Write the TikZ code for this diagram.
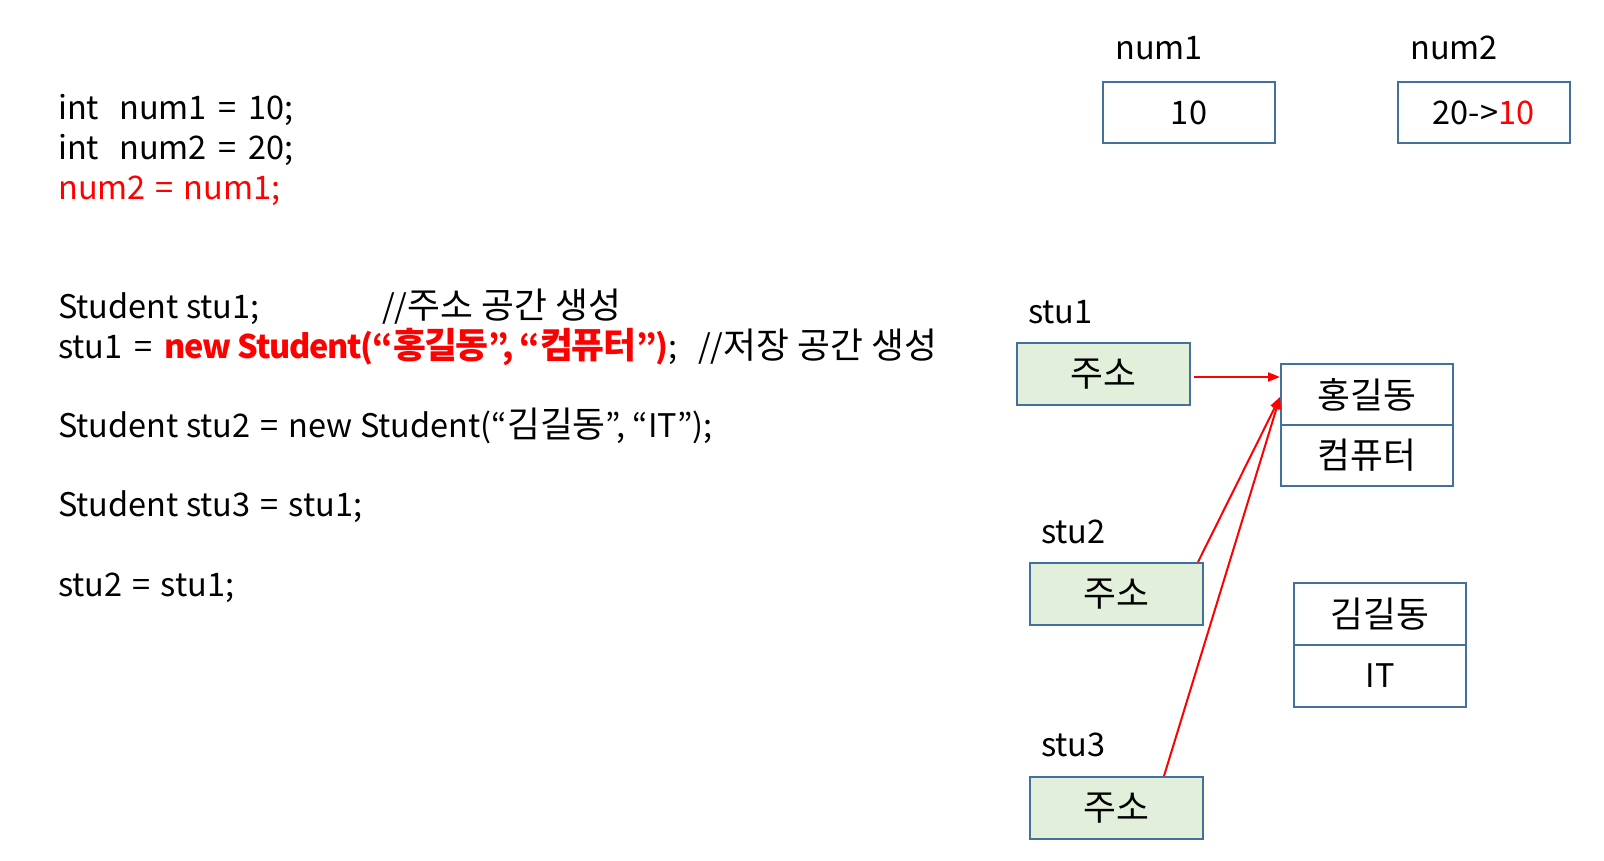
\documentclass[tikz,border=0pt]{standalone}
\usepackage{fontspec}
\setmainfont{Noto Sans CJK KR}
\newfontfamily\kr{Noto Sans CJK KR}[Scale=1.1]
\usetikzlibrary{arrows.meta}
\definecolor{bord}{RGB}{65,113,156}
\definecolor{cellfill}{RGB}{226,239,218}
\definecolor{myred}{RGB}{255,0,0}
\begin{document}
\begin{tikzpicture}[x=1pt,y=-1pt,
  txt/.style={anchor=base west, inner sep=0pt, font=\fontsize{32.5}{40}\selectfont},
  cell/.style={draw=bord, line width=2pt, minimum width=172pt, minimum height=61pt, inner sep=0pt, font=\fontsize{32.5}{40}\selectfont},
  addr/.style={cell, fill=cellfill, minimum width=173pt, minimum height=62pt},
  ptr/.style={draw=myred, line width=2pt, -{Triangle[length=12pt,width=9pt]}}]
\useasboundingbox (0,0) rectangle (1604,861);
% code lines
\node[txt] (c1) at (58,120) {int\hspace{20pt}num1\hspace{12pt}=\hspace{12pt}10;};
\node[txt] (c2) at (58,160) {int\hspace{20pt}num2\hspace{12pt}=\hspace{12pt}20;};
\node[txt, text=myred] (c3) at (58,200) {num2\hspace{10pt}=\hspace{10pt}num1;};
\node[txt] (c4) at (58,318) {Student stu1;};
\node[txt] (c4c) at (382,318) {//{\kr 주소 공간 생성}};
\node[txt] (c5) at (58,358) {stu1\hspace{12pt}=\hspace{12pt}\textcolor{myred}{\bfseries\addfontfeatures{LetterSpace=-4}new Student(“{\kr\addfontfeatures{LetterSpace=-4}홍길동}”, “{\kr\addfontfeatures{LetterSpace=-4}컴퓨터}”)};};
\node[txt] (c5c) at (698,358) {//{\kr 저장 공간 생성}};
\node[txt] (c6) at (58,437) {Student stu2\hspace{10pt}=\hspace{10pt}new Student(“{\kr 김길동}”, “IT”);};
\node[txt] (c7) at (58,516) {Student stu3\hspace{10pt}=\hspace{10pt}stu1;};
\node[txt] (c8) at (58,596) {stu2\hspace{10pt}=\hspace{10pt}stu1;};
% primitive variables
\node[txt] (n1lbl) at (1115,60) {num1};
\node[txt] (n2lbl) at (1410,60) {num2};
\node[cell] (n1box) at (1189,112.5) {10};
\node[cell] (n2box) at (1483.5,112.5) {20->\textcolor{myred}{10}};
% references
\node[txt] (s1lbl) at (1028,323) {stu1};
\node[txt] (s2lbl) at (1041,543) {stu2};
\node[txt] (s3lbl) at (1041,756) {stu3};
\node[addr] (stu1box) at (1103.5,374) {\kr 주소};
\node[addr] (stu2box) at (1116.5,594) {\kr 주소};
\node[addr] (stu3box) at (1116.5,808) {\kr 주소};
% objects
\node[cell] (hong1) at (1367,394.5) {\kr 홍길동};
\node[cell] (hong2) at (1367,455.5) {\kr 컴퓨터};
\node[cell, minimum height=62pt] (kim1) at (1380,614) {\kr 김길동};
\node[cell, minimum height=62pt] (kim2) at (1380,676) {IT};
% pointers
\draw[ptr] ([xshift=3pt,yshift=-3pt]stu1box.east) -- ([yshift=17.5pt]hong1.west);
\draw[ptr] ([xshift=-6pt]stu2box.north east) -- ([yshift=-2.5pt]hong1.west);
\draw[ptr] ([xshift=47.5pt]stu3box.north) -- ([yshift=-2.5pt]hong1.west);
\end{tikzpicture}
\end{document}
